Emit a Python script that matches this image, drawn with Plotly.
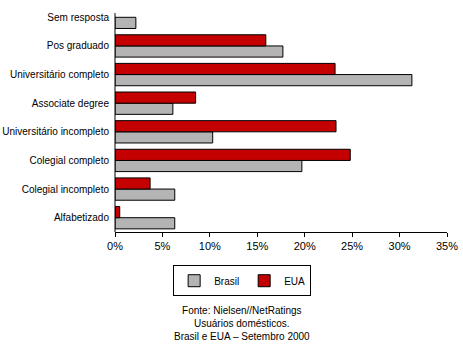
import plotly.graph_objects as go

categories = ["Alfabetizado", "Colegial incompleto", "Colegial completo",
              "Universitário incompleto", "Associate degree",
              "Universitário completo", "Pos graduado", "Sem resposta"]
brasil = [6.3, 6.3, 19.7, 10.3, 6.1, 31.3, 17.7, 2.2]
eua = [0.5, 3.7, 24.8, 23.3, 8.5, 23.2, 15.9, None]
x_ticks = [0, 5, 10, 15, 20, 25, 30, 35]
x_labels = [f"{v}%" for v in x_ticks]
footer = "Fonte: Nielsen//NetRatings<br>Usuários domésticos.<br>Brasil e EUA – Setembro 2000"

FONT = "Liberation Sans, Arial, sans-serif"

fig = go.Figure()
fig.add_trace(go.Bar(y=categories, x=brasil, name="Brasil", orientation="h",
                     marker=dict(color="#B4B4B4", line=dict(color="black", width=1))))
fig.add_trace(go.Bar(y=categories, x=eua, name="EUA", orientation="h",
                     marker=dict(color="#C40000", line=dict(color="black", width=1))))

fig.update_layout(
    width=463, height=350,
    margin=dict(l=115, r=16, t=3, b=118),
    paper_bgcolor="white", plot_bgcolor="white",
    barmode="group", bargap=0.22, bargroupgap=0,
    font=dict(family=FONT, size=11, color="black"),
    showlegend=True,
    legend=dict(orientation="h", x=0.383, xanchor="center", y=-0.145, yanchor="top",
                bordercolor="black", borderwidth=1, bgcolor="white",
                font=dict(size=10), itemwidth=30, tracegroupgap=0),
    annotations=[dict(text=footer, x=0.383, xref="paper", y=-0.31, yref="paper",
                      xanchor="center", yanchor="top", showarrow=False,
                      font=dict(size=10, family=FONT), align="center")],
    shapes=[dict(type="line", xref="paper", yref="paper", x0=0, x1=0, y0=0, y1=0.956,
                 line=dict(color="black", width=1))],
)
fig.update_xaxes(range=[0, 35], tickvals=x_ticks, ticktext=x_labels,
                 showgrid=False, zeroline=False, showline=True, linecolor="black",
                 linewidth=1, ticks="outside", ticklen=4, tickcolor="black",
                 tickfont=dict(size=11))
fig.update_yaxes(categoryorder="array", categoryarray=categories,
                 showgrid=False, showline=False, zeroline=False,
                 ticks="", ticklabelstandoff=5, tickfont=dict(size=10))

fig.write_html("out.html")
